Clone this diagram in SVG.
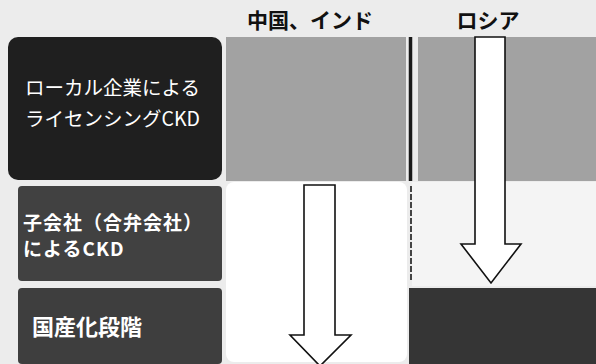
<svg xmlns="http://www.w3.org/2000/svg" width="596" height="364" viewBox="0 0 596 364">
<style>
.hdr{font-family:"Noto Sans CJK JP","Noto Sans",sans-serif;font-weight:bold;font-size:21px;fill:#111;text-anchor:middle}
.lbl{font-family:"Noto Sans CJK JP","Noto Sans",sans-serif;fill:#fff}
.arrow{fill:#fff;stroke:#111;stroke-width:1.6}
</style>
<rect x="0" y="0" width="596" height="364" fill="#ececec"/>
<rect x="226" y="37" width="180" height="144" fill="#a2a2a2"/>
<rect x="418" y="37" width="178" height="144" fill="#a2a2a2"/>
<rect x="226" y="182" width="181" height="180" rx="8" fill="#ffffff"/>
<rect x="412" y="182" width="184" height="104" fill="#f4f4f4"/>
<rect x="409" y="288" width="187" height="76" fill="#353535"/>
<text class="hdr" x="310" y="28">中国、インド</text>
<text class="hdr" x="488" y="28">ロシア</text>
<g id="node-local">
<rect x="8" y="37" width="214" height="143" rx="10" fill="#1f1f1f"/>
<text class="lbl" x="25" y="95" font-size="19.5">ローカル企業による</text>
<text class="lbl" x="25" y="126" font-size="19.5">ライセンシングCKD</text>
</g>
<g id="node-subsidiary">
<rect x="18" y="186" width="204" height="95" rx="4" fill="#414141"/>
<text class="lbl" x="23" y="230" font-size="19" font-weight="bold" letter-spacing="1">子会社（合弁会社）</text>
<text class="lbl" x="23" y="256" font-size="19" font-weight="bold" letter-spacing="1">によるCKD</text>
</g>
<g id="node-domestic">
<rect x="18" y="288" width="204" height="76" rx="4" fill="#3e3e3e"/>
<text class="lbl" x="32" y="335" font-size="22" font-weight="bold">国産化段階</text>
</g>
<g id="connectors">
<line x1="410.5" y1="37" x2="410.5" y2="181" stroke="#1a1a1a" stroke-width="3.5"/>
<line x1="411" y1="186" x2="411" y2="281" stroke="#444" stroke-width="2" stroke-dasharray="6 2"/>
<path class="arrow" d="M304,185 H335 V335 H351 L320,366 L290,335 H304 Z"/>
<path class="arrow" d="M475,37 H505 V244 H521 L491,283 L461,244 H475 Z"/>
</g>
</svg>
